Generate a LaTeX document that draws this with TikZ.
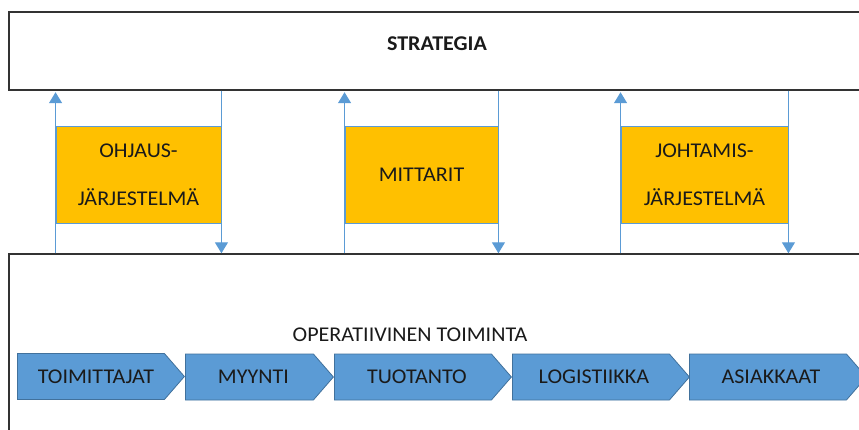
\documentclass[tikz,border=0pt]{standalone}
\usepackage{fontspec}
\setmainfont{Carlito}[FakeStretch=1.05]
\usetikzlibrary{arrows.meta,shapes.symbols}
\definecolor{lblue}{HTML}{5B9BD5}
\definecolor{dblue}{HTML}{41719C}
\definecolor{gold}{HTML}{FFC000}
\definecolor{edgec}{HTML}{333333}
\definecolor{txt}{HTML}{1A1A1A}
\begin{document}
\begin{tikzpicture}[x=1pt,y=-1pt,
  bigbox/.style={draw=edgec, line width=1.4pt, fill=white, rectangle, inner sep=0pt},
  orbox/.style={draw=lblue, line width=0.9pt, fill=gold, rectangle, inner sep=0pt,
    minimum height=97pt, align=center, text=txt, font=\fontsize{21}{48}\selectfont},
  chev/.style={signal, signal to=east, signal from=nowhere, signal pointer angle=98,
    fill=lblue, draw=dblue, line width=0.8pt, minimum height=46pt, inner sep=0pt,
    anchor=west, text=txt, font=\fontsize{21}{24}\selectfont},
  lbl/.style={inner sep=0pt, text=txt, font=\fontsize{21}{24}\selectfont},
  conn/.style={draw=lblue, fill=lblue, line width=1.1pt}]
\useasboundingbox (0,0) rectangle (859,430);
\clip (0,0) rectangle (859,430);
% big boxes
\node[bigbox, minimum width=853pt, minimum height=78pt] (strat) at (435.5,51) {};
\node[lbl, font=\fontsize{21}{24}\selectfont\bfseries] (stratlbl) at (437,44) {STRATEGIA};
\node[bigbox, minimum width=861pt, minimum height=186pt] (oper) at (439.5,347) {};
\node[lbl] (operlbl) at (410,335) {OPERATIIVINEN TOIMINTA};
% orange boxes
\node[orbox, minimum width=165pt] (o1) at (138.5,174.5) {OHJAUS-\\J\"ARJESTELM\"A};
\node[orbox, minimum width=153pt] (o2) at (421.5,174.5) {MITTARIT};
\node[orbox, minimum width=167pt] (o3) at (704.5,174.5) {JOHTAMIS-\\J\"ARJESTELM\"A};
% connectors
\foreach \o in {o1,o2,o3}{
  \draw[conn, -{Triangle[width=13pt,length=11pt]}] (\o.south west |- oper.north) -- ([yshift=-1.5pt]\o.south west |- strat.south);
  \draw[conn, -{Triangle[width=13pt,length=11pt]}] (\o.south east |- strat.south) -- (\o.south east |- oper.north);
}
% chevrons
\node[chev, minimum width=167pt] (c1) at (17,376.5) {\kern10pt TOIMITTAJAT};
\node[chev, minimum width=148pt] (c2) at (185,377) {\kern8pt MYYNTI};
\node[chev, minimum width=177pt] (c3) at (334,377) {\kern8pt TUOTANTO};
\node[chev, minimum width=177pt] (c4) at (512,377) {\kern6pt LOGISTIIKKA};
\node[chev, minimum width=177pt] (c5) at (689,377) {\kern6pt ASIAKKAAT};
\end{tikzpicture}
\end{document}
